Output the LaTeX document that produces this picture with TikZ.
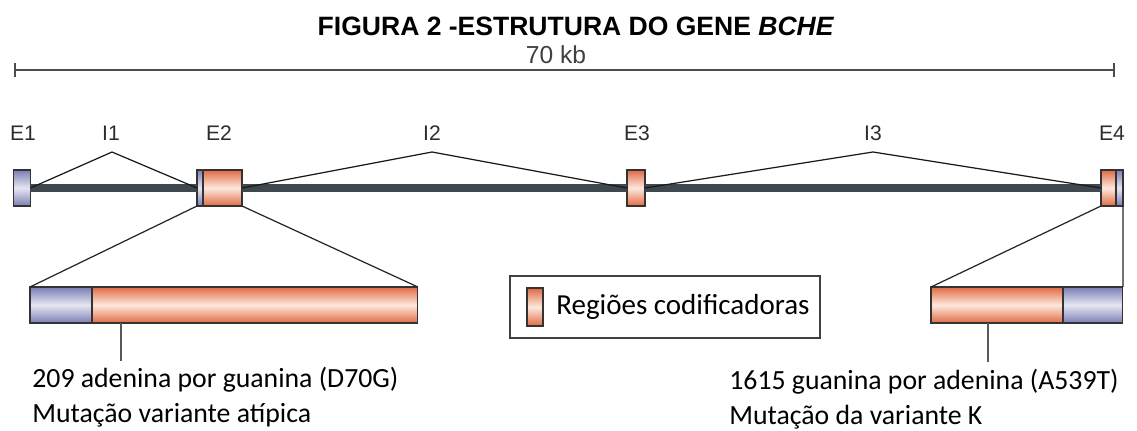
\documentclass[tikz,border=0pt]{standalone}
\usepackage{fontspec}
\setmainfont{Liberation Sans}
\newfontfamily\calibri{Carlito}
\usepackage{xcolor}
\usepackage{tikz}
\usetikzlibrary{arrows.meta,positioning}

\definecolor{genegrey}{RGB}{62,72,78}
\definecolor{lblgrey}{RGB}{45,45,45}
\definecolor{cdsdark}{RGB}{224,106,66}
\definecolor{cdslight}{RGB}{253,232,222}
\definecolor{utrdark}{RGB}{122,126,180}
\definecolor{utrlight}{RGB}{230,230,242}

\begin{document}
\begin{tikzpicture}[
    x=0.02cm, y=-0.02cm,
    exonbox/.style={rectangle, draw=black!80, line width=0.6pt, minimum height=0.72cm, inner sep=0pt, outer sep=0pt},
    cds/.style={exonbox, top color=cdsdark, bottom color=cdsdark, middle color=cdslight},
    utr/.style={exonbox, top color=utrdark, bottom color=utrdark, middle color=utrlight},
    lbl/.style={font=\fontsize{12}{14}\selectfont, text=lblgrey, inner sep=0pt},
    note/.style={font=\calibri\fontsize{15.8}{18}\selectfont, anchor=base west, inner sep=0pt},
    gene/.style={line width=4pt, genegrey},
    intron/.style={line width=0.7pt, black!90},
    zoomline/.style={line width=0.7pt, black!85},
    tick/.style={line width=1.2pt, black!65}
]
    \useasboundingbox (0,0) rectangle (1137,430);

    % title and scale
    \node[font=\bfseries\fontsize{15.1}{17}\selectfont, anchor=base] (title) at (576,35) {FIGURA 2 -ESTRUTURA DO GENE \textit{BCHE}};
    \coordinate (sbl) at (14,70);
    \coordinate (sbr) at (1115,70);
    \draw[line width=1.2pt, black!70, {Bar[width=0.28cm]}-{Bar[width=0.28cm]}] (sbl) -- (sbr);
    \node[font=\fontsize{14}{16}\selectfont, text=black!75, anchor=base] (kb) at (556,63) {70 kb};

    % exons
    \node[utr, minimum width=0.34cm] (e1) at (22,188) {};
    \node[utr, minimum width=0.12cm, anchor=west] (e2u) at (197,188) {};
    \node[cds, minimum width=0.78cm, right=0pt of e2u] (e2c) {};
    \node[cds, minimum width=0.36cm] (e3) at (636,188) {};
    \node[cds, minimum width=0.30cm, anchor=west] (e4c) at (1101,188) {};
    \node[utr, minimum width=0.14cm, right=0pt of e4c] (e4u) {};

    \draw[gene] (e1.east) -- (e2u.west);
    \draw[gene] (e2c.east) -- (e3.west);
    \draw[gene] (e3.east) -- (e4c.west);

    % introns
    \coordinate (i1top) at (112,152);
    \coordinate (i2top) at (432,152);
    \coordinate (i3top) at (873,152);
    \draw[intron] (e1.east) -- (i1top) -- (e2u.west);
    \draw[intron] (e2c.east) -- (i2top) -- (e3.west);
    \draw[intron] (e3.east) -- (i3top) -- (e4c.west);

    \node[lbl] (le1) at (23,133) {E1};
    \node[lbl] (li1) at (111,133) {I1};
    \node[lbl] (le2) at (219,133) {E2};
    \node[lbl] (li2) at (432,133) {I2};
    \node[lbl] (le3) at (637,133) {E3};
    \node[lbl] (li3) at (873,133) {I3};
    \node[lbl] (le4) at (1112,133) {E4};

    % enlarged exons
    \node[utr, minimum width=1.24cm, anchor=west] (d1u) at (30,305) {};
    \node[cds, minimum width=6.52cm, right=0pt of d1u] (d1c) {};
    \node[cds, minimum width=2.64cm, anchor=west] (d4c) at (931,305) {};
    \node[utr, minimum width=1.20cm, right=0pt of d4c] (d4u) {};

    \draw[zoomline] (e2u.south west) -- (d1u.north west);
    \draw[zoomline] (e2c.south east) -- (d1c.north east);
    \draw[zoomline] (e4c.south west) -- (d4c.north west);
    \draw[zoomline] (e4u.south east) -- (d4u.north east);

    % mutations
    \coordinate (m1) at (121,323);
    \coordinate (m1b) at (121,361);
    \coordinate (m4) at (988,323);
    \coordinate (m4b) at (988,362);
    \draw[tick] (m1) -- (m1b);
    \draw[tick] (m4) -- (m4b);
    \node[note] (mut1a) at (32,387) {209 adenina por guanina (D70G)};
    \node[note] (mut1b) at (32,422) {Mutação variante atípica};
    \node[note] (mut4a) at (729,389) {1615 guanina por adenina (A539T)};
    \node[note] (mut4b) at (729,424) {Mutação da variante K};

    % legend
    \node[draw=black!75, line width=0.9pt, minimum width=6.2cm, minimum height=1.24cm] (legend) at (665,307) {};
    \node[cds, minimum width=0.32cm, minimum height=0.76cm] (swatch) at (535,307) {};
    \node[note, anchor=west, font=\calibri\fontsize{16.5}{19}\selectfont] (legtxt) at (556,307) {Regiões codificadoras};
\end{tikzpicture}
\end{document}
